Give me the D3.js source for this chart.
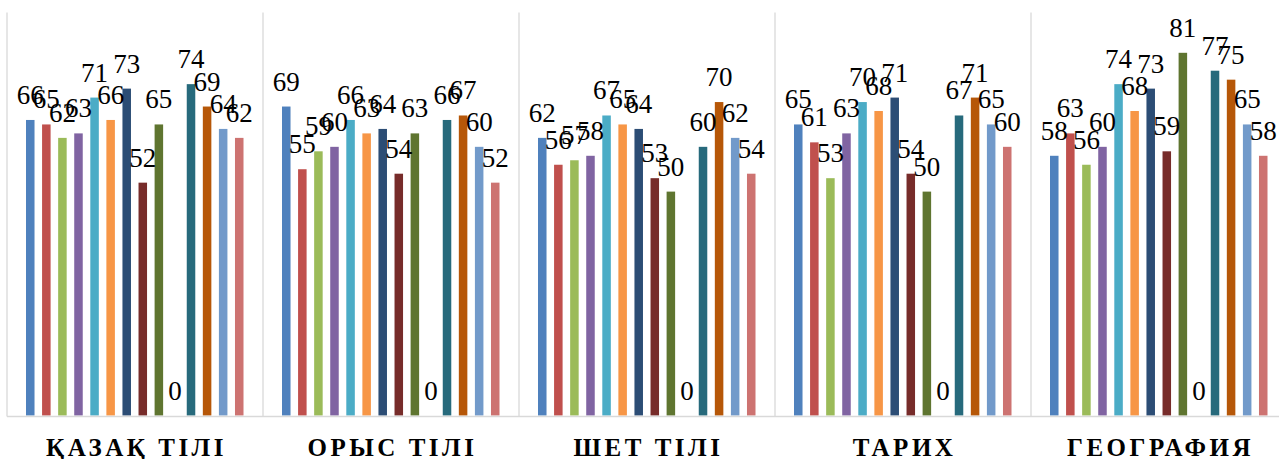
<!DOCTYPE html>
<html>
<head>
<meta charset="utf-8">
<script src="https://cdn.jsdelivr.net/npm/d3@7"></script>
<style>
  html, body { margin: 0; padding: 0; background: #ffffff; }
  svg { display: block; }
</style>
</head>
<body>
<svg id="chart" width="1279" height="459"></svg>
<script>
const categories = ["ҚАЗАҚ ТІЛІ", "ОРЫС ТІЛІ", "ШЕТ ТІЛІ", "ТАРИХ", "ГЕОГРАФИЯ"];
const seriesNames = ["s1","s2","s3","s4","s5","s6","s7","s8","s9","s10","s11","s12","s13","s14"];
const seriesColors = ["#4F81BD","#C0504D","#9BBB59","#8064A2","#4BACC6","#F79646","#2C4D75","#772C2A","#5F7530","#4D3B62","#276A7C","#B65708","#729ACA","#CD7371"];
const valuesKazakh    = [66,65,62,63,71,66,73,52,65,0,74,69,64,62];
const valuesRussian   = [69,55,59,60,66,63,64,54,63,0,66,67,60,52];
const valuesForeign   = [62,56,57,58,67,65,64,53,50,0,60,70,62,54];
const valuesHistory   = [65,61,53,63,70,68,71,54,50,0,67,71,65,60];
const valuesGeography = [58,63,56,60,74,68,73,59,81,0,77,75,65,58];
const yDomainMax = 90;

const values = [valuesKazakh, valuesRussian, valuesForeign, valuesHistory, valuesGeography];
const data = categories.map((c, i) => ({category: c, values: values[i]}));

const svg = d3.select("#chart");
const plotLeft = 7, plotRight = 1287, plotTop = 12.5, plotBottom = 415.5;

const x0 = d3.scaleBand().domain(categories).range([plotLeft, plotRight]).padding(0);
const x1 = d3.scaleBand().domain(seriesNames).range([19, x0.bandwidth() - 19.5]).paddingInner(0.47).paddingOuter(0);
const y = d3.scaleLinear().domain([0, yDomainMax]).range([plotBottom, plotTop]);

const gridColor = "#d9d9d9";

// category separators
const seps = categories.map(c => x0(c)).concat([plotRight]);
svg.append("g").selectAll("line").data(seps).join("line")
  .attr("x1", d => d).attr("x2", d => d)
  .attr("y1", plotTop).attr("y2", plotBottom + 1)
  .attr("stroke", gridColor).attr("stroke-width", 1.3);

// bars
const groups = svg.append("g").selectAll("g").data(data).join("g")
  .attr("transform", d => `translate(${x0(d.category)},0)`);

groups.selectAll("rect").data(d => d.values.map((v, i) => ({v, s: seriesNames[i], color: seriesColors[i]})))
  .join("rect")
  .attr("x", d => x1(d.s))
  .attr("width", x1.bandwidth())
  .attr("y", d => y(d.v))
  .attr("height", d => y(0) - y(d.v))
  .attr("fill", d => d.color);

groups.selectAll("text").data(d => d.values.map((v, i) => ({v, s: seriesNames[i]})))
  .join("text")
  .attr("x", d => x1(d.s) + x1.bandwidth() / 2)
  .attr("y", d => y(d.v) - 16)
  .attr("text-anchor", "middle")
  .attr("font-family", "'Liberation Serif', 'Times New Roman', serif")
  .attr("font-size", 27)
  .attr("fill", "#000")
  .text(d => d.v);

// baseline axis
svg.append("line")
  .attr("x1", plotLeft).attr("x2", plotRight)
  .attr("y1", plotBottom + 1).attr("y2", plotBottom + 1)
  .attr("stroke", gridColor).attr("stroke-width", 1.5);

// category labels
const xAxis = d3.axisBottom(x0).tickSize(0).tickPadding(0);
const ax = svg.append("g").attr("transform", `translate(0,${plotBottom})`).call(xAxis);
ax.select(".domain").remove();
ax.selectAll("text")
  .attr("dy", 0)
  .attr("y", 40)
  .attr("dx", "1.5px")
  .attr("font-family", "'Liberation Serif', 'Times New Roman', serif")
  .attr("font-size", 25)
  .attr("font-weight", "bold")
  .attr("letter-spacing", "3.5px")
  .attr("fill", "#000");
</script>
</body>
</html>
